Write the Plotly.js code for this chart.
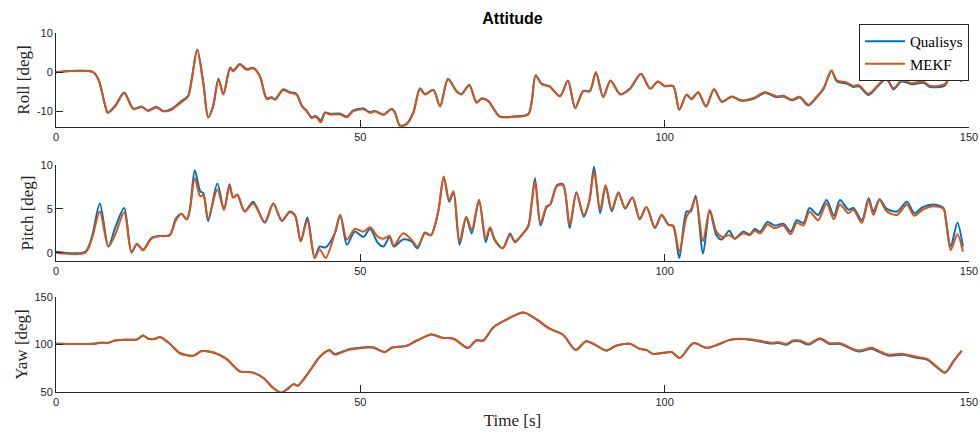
<!DOCTYPE html>
<html>
<head>
<meta charset="utf-8">
<script src="https://cdn.plot.ly/plotly-3.0.1.min.js"></script>
<style>html,body{margin:0;padding:0;background:#fff;}#chart{width:980px;height:432px;}</style>
</head>
<body>
<div id="chart"></div>
<script>
// ---- Roll ----
const rollTime = [0,6.1,7,8,8.5,9.7,11.2,12.7,14.1,15.1,16.5,17.6,19.0,20.4,21.7,22.3,23.2,24.2,25.0,25.8,26.7,27.5,28.6,29.1,30.2,31.3,32.4,33.5,34.6,35.4,36.0,37.3,38.4,39.5,40.4,41.2,42.0,42.7,43.5,44.2,45.0,46.7,47.8,48.8,50.5,51.6,52.4,53.8,55.1,55.7,56.5,57.6,58.7,59.8,60.6,62.0,63.1,64.4,65.8,66.6,67.9,69.1,69.9,71.0,72.9,75.1,77.6,78.8,79.8,81.1,82.8,84.1,85.3,86.6,87.7,88.7,89.9,91.1,92.7,94.3,96.1,97.6,98.9,100.0,101.4,102.4,103.6,104.4,105.5,106.8,108.1,109.4,111.0,112.6,114.6,116.5,118.4,119.5,120.9,122.2,123.6,125.0,126.1,127.4,128.3,129.9,131.0,131.9,133.5,135.1,136.4,137.6,138.9,140.6,142.5,143.6,146.1,147.0,148.0,148.8];
const rollMEKF = [0,0,-2,-8,-10.4,-8.8,-5.4,-9.4,-8.9,-9.9,-9.0,-10,-9.6,-7.9,-6.2,-1.9,5.7,-2.8,-11.6,-8.8,-1.9,-5.7,1.0,0.2,1.9,0.6,1.0,-1.1,-6.8,-6.6,-7.0,-4.6,-5.3,-5.7,-8.7,-10,-11.7,-11.4,-12.8,-10.4,-10.8,-10.8,-11.5,-10,-9.5,-10.4,-10,-10.9,-9.5,-10.4,-13.7,-13.3,-10.4,-4.3,-5.7,-4.6,-8.8,-1.8,-4.9,-5.7,-3.4,-7.8,-6.8,-7.4,-11.4,-11.4,-10.8,-0.9,-3.1,-3.7,-6.2,-2.2,-9.2,-4.9,-4.9,-0.1,-6.4,-2.2,-5.7,-4.3,-0.5,-4.2,-2.4,-3.5,-3.5,-9.5,-5.7,-6.8,-5.1,-8.7,-4.3,-7.5,-6.2,-7.2,-6.6,-5.1,-6.2,-6.0,-7.0,-6.3,-8.3,-6.2,-4.1,0.4,-2.1,-2.6,-3.5,-3.3,-5.5,-3.2,-1.5,-4.1,-2.1,-2.8,-2.4,-3.5,-3.0,0.2,-1.1,-2.1];
const rollQualisys = [0,0,-2,-8,-10.3,-8.6,-5.2,-9.3,-8.8,-9.8,-8.8,-9.9,-9.4,-7.6,-6.0,-1.8,5.8,-2.7,-11.5,-8.7,-1.7,-5.6,1.2,0.4,2.1,0.8,1.1,-1.0,-6.6,-6.4,-6.9,-4.4,-5.1,-5.5,-8.6,-9.9,-11.5,-11.2,-12.3,-10.3,-10.6,-10.6,-11.3,-9.8,-9.3,-10.2,-9.9,-10.8,-9.4,-10.3,-13.6,-13.2,-10.3,-4.1,-5.6,-4.5,-8.7,-1.7,-4.8,-5.6,-3.3,-7.7,-6.7,-7.3,-11.3,-11.3,-10.7,-0.8,-3.0,-3.6,-6.1,-2.1,-9.1,-4.8,-4.8,0,-6.3,-2.1,-5.6,-4.2,-0.4,-4.2,-2.4,-3.6,-3.6,-9.6,-5.8,-6.9,-5.2,-8.8,-4.4,-7.6,-6.3,-7.3,-6.8,-5.3,-6.4,-6.2,-7.2,-6.5,-8.5,-6.4,-4.3,0.3,-2.4,-2.9,-3.8,-3.6,-5.8,-3.5,-1.7,-4.4,-2.4,-3.1,-2.7,-3.8,-3.3,0.1,-1.3,-2.4];

// ---- Pitch ----
const pitchTime = [0,4.8,5.9,7.2,8.6,9.7,11.2,12.4,13.3,14.3,15.7,17.1,18.7,19.7,20.6,21.5,22.0,22.8,23.7,24.2,25.0,26.5,27.6,28.5,29.1,29.8,31.0,32.4,34.3,35.7,37.1,38.4,39.3,40.2,41.3,42.5,43.3,44.3,45.8,46.7,47.8,49.1,50.5,51.6,52.9,53.8,54.8,55.5,57.0,58.4,59.4,60.6,61.6,62.8,63.7,64.6,65.3,66.3,67.4,68.3,69.5,70.6,71.3,72.1,73.4,74.6,75.4,76.5,77.6,78.1,78.7,79.6,80.6,81.2,82.3,83.3,84.4,85.5,86.7,87.6,88.4,89.4,90.3,91.3,92.4,93.5,94.7,95.9,97.0,98.4,99.5,100.6,101.4,102.4,103.6,104.3,105.1,106.3,107.4,108.5,109.4,110.6,111.5,112.9,114.0,114.8,115.7,116.9,118.1,119.5,120.7,121.7,122.8,123.8,125.2,126.6,127.8,128.8,130.2,131.0,132.4,133.5,134.3,135.3,136.5,138.2,139.8,141.0,142.4,144.1,145.8,146.2,147.0,148.1,149.0];
const pitchMEKF = [0,0,1.6,4.7,0.7,2.0,4.6,0.1,1.0,0.3,1.6,1.9,2.0,3.7,4.4,3.8,4.9,8.5,6.4,6.6,3.9,7.2,4.9,7.6,6.3,6.6,4.7,5.6,3.5,5.6,3.7,4.6,4.2,1.3,3.7,-0.6,0.4,-0.6,2.2,4.3,1.5,2.7,2.4,2.9,1.8,1.6,1.9,0.8,2.2,1.5,0.7,2.2,2.0,4.7,8.7,6.0,7.0,1.3,4.1,2.6,6.0,1.6,2.9,1.5,0.5,2.0,1.3,2.0,3.1,5.3,8.1,3.4,5.3,5.5,7.6,7.7,3.2,6.8,4.3,5.8,9.3,4.9,7.7,4.9,6.8,5.1,6.3,3.9,5.2,2.9,4.3,3.2,3.1,0.1,4.1,4.9,6.2,1.3,4.9,2.4,1.8,2.0,1.6,2.2,2.0,2.5,2.2,3.2,2.8,3.1,2.1,3.4,3.1,4.7,3.7,5.6,3.8,5.5,4.5,4.9,3.4,6.0,4.3,6.0,4.7,4.3,5.5,4.2,4.9,5.3,5.0,3.7,0.3,2.1,0.1];
const pitchQualisys = [0.1,0.1,1.8,5.6,0.7,2.8,5.1,0,1.0,0.3,1.7,1.9,2.0,3.9,4.4,3.8,5.0,9.4,7.0,6.8,3.6,7.9,4.9,7.8,6.3,6.6,4.7,5.8,3.4,5.6,3.6,4.7,4.2,1.3,4.0,-0.6,0.7,0.6,2.2,4.3,0.9,2.4,1.8,2.7,1.1,0.7,1.8,0.7,1.5,1.3,0.5,2.3,2.0,4.7,8.6,5.8,6.9,0.9,4.0,2.2,6.0,1.2,2.8,1.4,0.5,2.2,1.2,2.0,3.0,5.4,8.5,3.1,5.2,5.5,7.7,7.8,2.8,6.9,4.1,5.8,9.8,4.5,7.6,4.7,6.9,5.0,6.3,3.8,5.2,2.8,4.3,3.2,3.0,-0.6,4.7,4.7,6.5,-0.1,4.8,2.0,1.5,2.5,1.6,2.4,2.1,2.7,2.4,3.5,3.1,3.3,2.4,3.7,3.4,5.1,4.3,6.0,4.2,6.0,4.9,5.1,3.7,6.2,4.7,6.1,5.0,4.7,5.8,4.5,5.2,5.5,5.1,3.8,0.7,3.4,0.7];

// ---- Yaw ----
const yawTime = [0,6.1,7.2,8.6,9.7,11.6,13.3,14.3,15.2,16.3,17.1,18.7,20.4,22.6,23.9,25.8,28.0,30.2,32.2,34.1,35.6,37.0,38.0,39.0,39.7,41.4,43.4,44.9,45.8,48.3,52.1,54.0,55.2,57.6,59.3,61.7,63.4,65.3,67.7,69.0,70.2,71.8,74.0,76.8,79.0,81.1,83.3,85.4,87.1,88.8,90.4,92.1,94.3,95.9,97.0,98.1,99.8,101.2,102.5,104.7,106.9,108.8,110.7,112.4,114.6,117.6,118.7,120.0,121.1,122.2,123.6,125.5,127.1,128.8,131.8,134.0,135.1,136.7,139.2,141.1,143.1,144.7,146.1,147.5,148.8];
const yawMEKF = [100.7,100.7,101.8,101.8,104.2,105,105.3,109.5,106,106,107.8,100.7,90.8,88.3,92.9,91.5,84.8,71.7,70.7,64.7,54.8,49.2,53,58.3,56.5,69.6,87.3,93.6,89.4,94.7,96.5,91.9,96.5,98.6,104.2,110.6,107.1,106,96.5,104.2,104.2,117.7,126.1,133.6,126.1,116.6,110.2,94.3,103.5,98.9,93.6,98.9,100.7,95.4,94.3,90.1,91.2,91.9,85.9,101.4,96.5,100,104.9,106,105,101.9,102.5,100.7,104.2,104.2,100.7,106.7,101.4,101.4,93.6,96.5,93.6,89.4,90.1,87.3,84.8,76.7,70.7,83,93.6];
const yawQualisys = [100.7,100.7,101.8,101.8,104.2,105,105.3,109.5,106,106,107.8,100.7,90.8,88.3,93.3,91.8,84.8,71.7,70.7,64.7,54.8,49.2,53,58.3,56.5,69.6,87.3,94.1,90.0,95.4,97.0,92.2,96.8,98.6,104.2,110.6,107.1,106,96.5,104.2,104.2,117.7,126.1,133.6,126.1,116.6,110.2,94.3,103.5,98.9,93.6,98.9,100.7,95.4,94.3,90.1,91.2,91.9,85.9,101.4,96.5,100,104.9,105.8,104.5,101.0,101.6,99.8,103.4,103.4,99.9,105.9,100.6,100.6,92.6,95.5,92.6,88.4,89.1,86.4,84.0,76.0,70.2,82.6,93.4];

const tickTimes = [0,50,100,150];
const blue = '#0072BD', orange = '#D95319';

function pair(t, q, m, ax, show) {
  const xa = ax === 1 ? 'x' : 'x' + ax, ya = ax === 1 ? 'y' : 'y' + ax;
  return [
    {x: t, y: q, type: 'scatter', mode: 'lines', name: 'Qualisys', xaxis: xa, yaxis: ya, showlegend: show,
     line: {color: blue, width: 2, shape: 'spline', smoothing: 0.8}},
    {x: t, y: m, type: 'scatter', mode: 'lines', name: 'MEKF', xaxis: xa, yaxis: ya, showlegend: show,
     line: {color: orange, width: 2, shape: 'spline', smoothing: 0.8}}
  ];
}

const data = [].concat(
  pair(rollTime, rollQualisys, rollMEKF, 1, true),
  pair(pitchTime, pitchQualisys, pitchMEKF, 2, false),
  pair(yawTime, yawQualisys, yawMEKF, 3, false)
);

const tickFont = {family: 'Liberation Sans, Arial, sans-serif', size: 11, color: '#262626'};
const serif = 'Liberation Serif, Times New Roman, serif';
function xax(anchor, title) {
  const a = {anchor: anchor, domain: [0, 1], range: [0, 150], tickvals: tickTimes, ticktext: tickTimes.map(String),
    showline: true, linecolor: '#262626', linewidth: 1, ticks: 'inside', ticklen: 7, tickcolor: '#262626',
    tickfont: tickFont, showgrid: false, zeroline: false, mirror: false};
  if (title) a.title = {text: title, font: {family: serif, size: 17, color: '#262626'}, standoff: 6};
  return a;
}
function yax(anchor, domain, range, vals, title) {
  return {anchor: anchor, domain: domain, range: range, tickvals: vals, ticktext: vals.map(String),
    showline: true, linecolor: '#262626', linewidth: 1, ticks: 'inside', ticklen: 7, tickcolor: '#262626',
    tickfont: tickFont, showgrid: false, zeroline: false, mirror: false,
    title: {text: title, font: {family: serif, size: 17, color: '#262626'}, standoff: 2}};
}

const layout = {
  width: 980, height: 432,
  margin: {l: 56, r: 11, t: 0, b: 0},
  paper_bgcolor: '#ffffff', plot_bgcolor: '#ffffff',
  title: {text: '<b>Attitude</b>', font: {family: 'Liberation Sans, Arial, sans-serif', size: 16, color: '#000'},
          x: 0.5, xref: 'paper', y: 1 - 18/432, yref: 'container', yanchor: 'middle'},
  xaxis: xax('y'), xaxis2: xax('y2'), xaxis3: xax('y3', 'Time [s]'),
  yaxis: yax('x', [1 - 127/432, 1 - 33/432], [-14, 10], [-10, 0, 10], 'Roll [deg]'),
  yaxis2: yax('x2', [1 - 261/432, 1 - 165/432], [-0.95, 10], [0, 5, 10], 'Pitch [deg]'),
  yaxis3: yax('x3', [1 - 392/432, 1 - 297/432], [50, 150], [50, 100, 150], 'Yaw [deg]'),
  showlegend: true,
  legend: {x: 1, xanchor: 'right', y: 1 - 24/432, yanchor: 'top', bgcolor: '#ffffff',
           bordercolor: '#262626', borderwidth: 1, font: {family: serif, size: 15, color: '#000'},
           tracegroupgap: 0, itemwidth: 40}
};

Plotly.newPlot('chart', data, layout, {displayModeBar: false, staticPlot: true});
</script>
</body>
</html>
